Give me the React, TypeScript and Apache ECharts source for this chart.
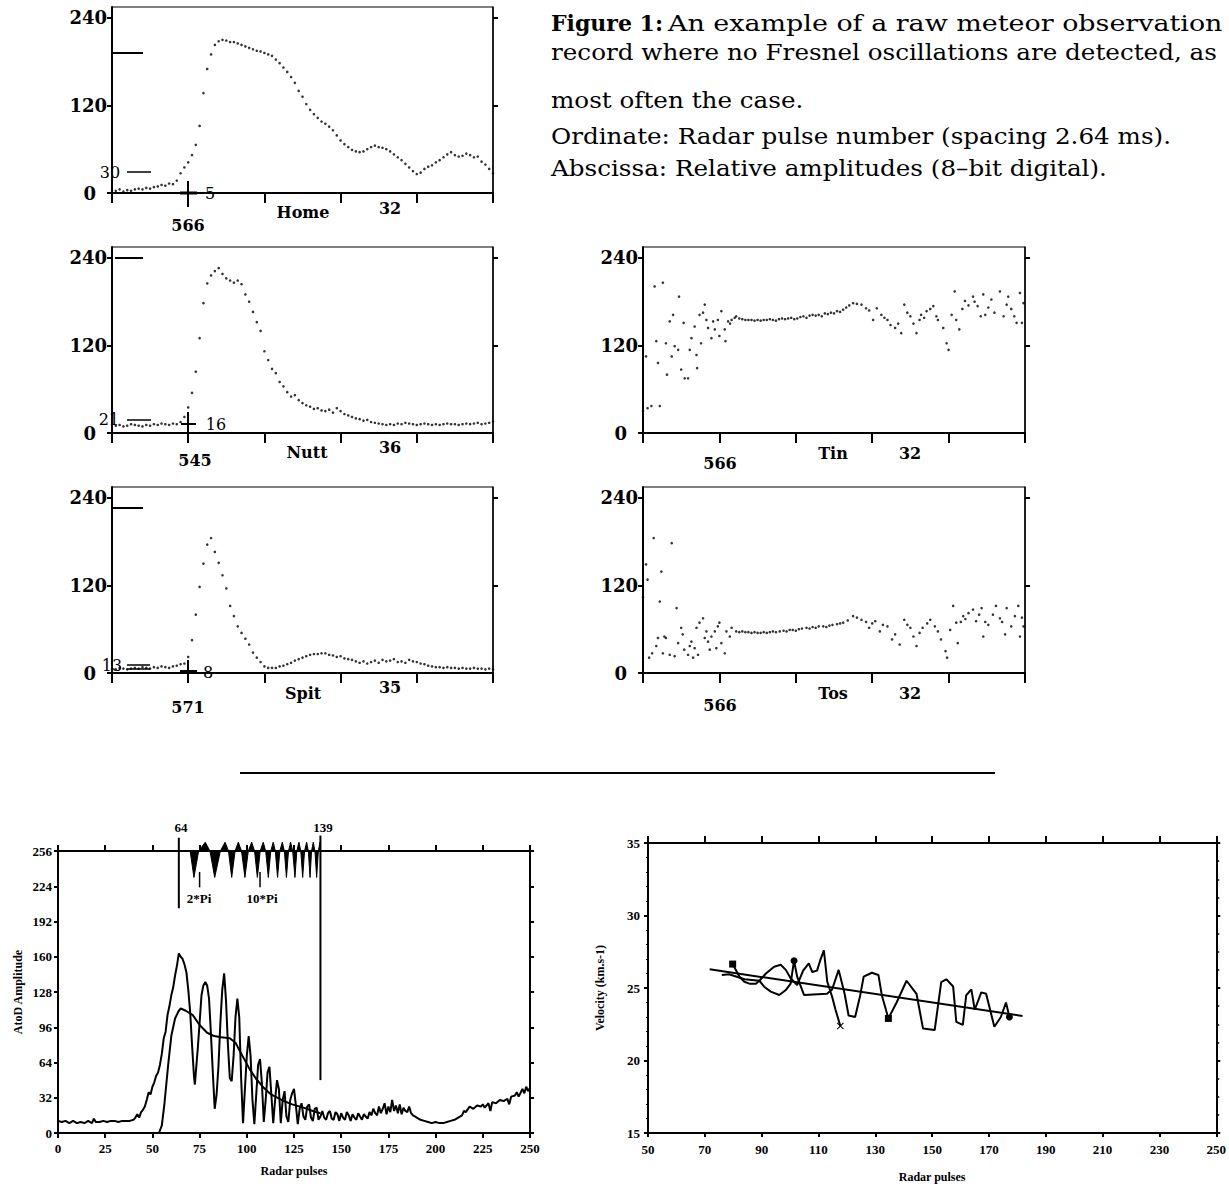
import React, { useEffect, useRef } from "react";
import * as echarts from "echarts";

// ---------- DATA ----------
// Top panels: relative amplitude (0-255) against pulse offset, one reading every 2.5 pulses
const STEP = 2.5;
const homeAmp = [
  4, 3, 5, 2, 4, 3, 5, 6, 5, 7, 6, 8, 9, 11, 10, 13, 12, 17, 27, 35,
  42, 52, 66, 92, 137, 170, 190, 203, 208, 210, 209, 207, 207, 205, 203, 201, 199, 197, 195, 194,
  192, 190, 188, 183, 178, 172, 166, 159, 151, 140, 132, 122, 114, 108, 103, 98, 95, 91, 86, 79,
  72, 67, 63, 59, 57, 56, 57, 60, 63, 65, 63, 62, 60, 57, 53, 49, 45, 40, 35, 30,
  26, 28, 33, 36, 38, 42, 45, 49, 53, 56, 52, 50, 51, 54, 52, 49, 50, 43, 39, 33, 27,
];
const nuttAmp = [
  12, 10, 11, 9, 10, 12, 11, 10, 9, 11, 10, 12, 11, 13, 12, 11, 13, 12, 15,
  22, 35, 55, 84, 130, 178, 205, 216, 222, 226, 218, 212, 209, 206, 209, 204, 190, 180, 166, 152,
  140, 112, 100, 88, 82, 70, 64, 56, 50, 52, 45, 41, 38, 36, 33, 34, 31, 30, 32, 28,
  34, 30, 26, 24, 22, 20, 19, 17, 18, 15, 14, 13, 12,
  11, 12, 11, 13, 12, 14, 13, 12, 11, 12, 13, 12, 11, 12, 11, 12, 13, 12, 12, 11,
  12, 13, 12, 13, 14, 12, 13, 14, 16,
];
const spitAmp = [
  6, 5, 7, 6, 5, 6, 7, 6, 8, 7, 6, 8, 7, 9, 8, 7, 9, 10, 12,
  13, 22, 45, 80, 118, 150, 176, 185, 166, 151, 134, 116, 92, 78, 64, 55, 47, 39, 28, 21, 15, 9,
  7, 7, 7, 9, 10, 12, 14, 17, 19, 21, 23, 25, 26, 26, 27, 27, 25, 24, 22, 23,
  20, 19, 18, 16, 14, 16, 13, 15, 17, 14, 18, 16, 17, 19, 15, 16, 14, 18, 16, 15,
  13, 12, 10, 9, 8, 8, 7, 8, 7, 7, 6, 7, 6, 6, 7, 6, 6, 5, 6, 5,
];
const tinPts = [
  [0, 30], [2, 105], [3, 34], [5.5, 37], [7.6, 201], [8.7, 126], [9.8, 96], [11, 37], [13, 206], [15, 123],
  [15.7, 80], [17.5, 153], [18.8, 105], [19.7, 162], [20.7, 119], [23, 114], [23.6, 187], [25, 87], [26.6, 151], [27.3, 75],
  [29.5, 75], [30.6, 114], [31.7, 130], [33.8, 146], [35, 107], [35.4, 89], [37, 162], [38, 123], [39.3, 165], [40.4, 176],
  [41.5, 155], [42.6, 144], [44.8, 130], [45.9, 153], [47, 142], [49, 155], [50, 133], [51.3, 167], [53.5, 142], [54, 126],
  [55.7, 153], [57, 150], [58, 155], [60, 158], [61, 160], [63, 157], [65, 156], [67, 155], [69, 155], [71, 155],
  [73, 154], [75, 155], [77, 154], [79, 155], [81, 155], [83, 156], [85, 155], [87, 154], [89, 156], [91, 157],
  [93, 156], [95, 157], [97, 158], [99, 156], [101, 157], [103, 159], [105, 160], [107, 158], [109, 161], [111, 162],
  [113, 161], [115, 162], [117, 160], [119, 164], [121, 163], [123, 165], [125, 164], [127, 167], [129, 166], [131, 169],
  [133, 172], [135, 175], [137.5, 178], [140, 177], [143, 176], [146, 171], [148, 168], [150.6, 155], [153, 171], [156, 162],
  [158, 158], [160, 155], [162, 148], [165, 144], [167, 150], [169, 137], [171, 176], [173, 165], [175, 160], [177, 150],
  [179, 137], [181, 155], [182, 162], [184, 158], [185.6, 167], [188, 170], [190, 174], [192, 160], [193, 155], [196.5, 144],
  [198.7, 123], [200, 114], [202, 162], [204, 194], [205, 155], [207, 142], [209, 170], [210.7, 181], [213, 175], [216, 187],
  [217, 180], [219, 174], [221, 160], [222.7, 190], [224, 162], [226, 172], [228, 183], [230, 165], [233.6, 194], [236, 160],
  [238, 176], [239, 187], [241, 170], [243, 160], [244.5, 151], [246.7, 192], [248, 151], [249, 178],
];
const tosPts = [
  [0, 104], [2, 149], [3, 128], [4, 21], [6, 27], [7, 185], [8.7, 37], [9.8, 48], [11, 98], [12, 139],
  [13, 27], [14, 50], [15, 48], [17.5, 25], [18.8, 178], [20.7, 23], [22, 89], [23, 41], [25, 62], [26, 53],
  [27, 32], [29.5, 25], [30.6, 37], [31.7, 43], [32.8, 21], [33.8, 34], [35, 62], [36, 25], [37, 69], [39.3, 75],
  [40.4, 48], [41.5, 57], [42.6, 43], [43.7, 32], [44.8, 50], [47, 57], [48, 34], [49, 64], [50, 69], [51.3, 41],
  [53.5, 27], [54.6, 57], [56.8, 50], [58, 62], [61, 57], [63, 56], [65, 57], [67, 56], [69, 56], [71, 55],
  [73, 56], [75, 55], [77, 55], [79, 56], [81, 55], [83, 56], [85, 57], [87, 56], [89.5, 57], [92, 58],
  [94, 57], [96, 59], [98, 59], [100, 58], [102, 60], [104, 61], [107, 62], [109, 61], [111, 63], [113, 62],
  [115, 64], [118, 64], [120, 63], [122, 65], [124, 66], [127, 67], [129, 68], [131, 69], [134, 72], [137.5, 78],
  [140, 76], [143, 73], [146, 70], [148, 62], [150, 68], [152, 71], [155, 57], [157, 66], [160, 64], [163, 46],
  [165, 53], [168, 39], [171, 73], [173, 66], [175, 62], [177, 50], [179, 37], [181, 55], [183, 62], [186, 68],
  [188, 73], [191, 64], [193, 57], [195, 46], [198, 30], [199, 21], [201, 59], [203, 92], [205, 69], [206, 41],
  [208, 70], [209.6, 78], [211, 74], [213, 82], [216, 87], [218, 71], [220, 80], [221.6, 89], [222.7, 50], [224, 70],
  [226, 66], [229, 80], [231, 92], [233.6, 75], [235, 70], [237, 53], [238, 89], [241, 64], [243.4, 78], [245.6, 92],
  [246.7, 50], [248, 76], [249, 64],
];
const smallYTicks = [0, 120, 240];
const smallRightTicks = [120, 240];

// Bottom-left: AtoD amplitude against radar pulse
const rawAmp = [
  [0, 11], [2, 10], [4, 11], [6, 9], [8, 11], [10, 9], [12, 10], [14, 9], [16, 11], [18, 9], [19, 13], [20, 10],
  [22, 10], [24, 11], [26, 10], [28, 11], [30, 11], [32, 10], [34, 11], [36, 11], [38, 11], [40, 12], [41, 14],
  [42, 17], [43, 14], [44, 19], [45, 21], [46, 24], [47, 30], [48, 37], [49, 35], [50, 42], [51, 46], [52, 52],
  [53, 55], [54, 62], [55, 72], [56, 86], [57, 92], [58, 107], [59, 115], [60, 125], [61, 132], [62, 143],
  [63, 152], [64, 163], [65, 160], [66, 158], [67, 153], [68, 146], [69, 130], [70, 110], [71, 80], [72, 52],
  [72.5, 44], [73, 55], [74, 76], [75, 100], [76, 125], [77, 134], [78, 137], [79, 134], [80, 122], [81, 90],
  [82, 55], [83, 22], [84, 35], [85, 61], [86, 100], [87, 130], [88, 145], [89, 120], [90, 80], [91, 50],
  [92, 47], [93, 70], [94, 105], [95, 122], [96, 105], [97, 50], [98, 9], [99, 40], [100, 70], [101, 88],
  [102, 70], [103, 30], [104, 8], [105, 35], [106, 62], [107, 67], [108, 45], [109, 10], [110, 30], [111, 55],
  [112, 60], [113, 35], [114, 9], [115, 30], [116, 48], [117, 40], [118, 9], [119, 30], [120, 38], [121, 15],
  [122, 10], [123, 30], [124, 36], [125, 40], [126, 25], [127, 8], [128, 22], [129, 27], [130, 15], [131, 12],
  [132, 24], [133, 26], [134, 14], [135, 11], [136, 22], [137, 23], [138, 12], [139, 15], [140, 20], [141, 14],
  [142, 12], [143, 18], [144, 20], [145, 13], [146, 12], [147, 19], [148, 17], [149, 11], [150, 18], [151, 14],
  [152, 12], [153, 19], [154, 16], [155, 11], [156, 17], [157, 14], [158, 12], [159, 18], [160, 15], [161, 12],
  [162, 17], [163, 15], [164, 13], [165, 19], [166, 16], [167, 22], [168, 18], [169, 16], [170, 24], [171, 18],
  [172, 22], [173, 27], [174, 17], [175, 24], [176, 19], [177, 30], [178, 20], [179, 25], [180, 18], [181, 26],
  [182, 17], [183, 23], [184, 20], [185, 19], [186, 24], [187, 18], [188, 16], [189, 15], [190, 14], [192, 12],
  [194, 11], [196, 10], [198, 9], [200, 10], [202, 9], [204, 9], [206, 10], [208, 11], [210, 12], [212, 14],
  [214, 16], [215, 20], [216, 19], [218, 24], [220, 22], [222, 25], [224, 24], [225, 26], [226, 23], [228, 27],
  [229, 20], [230, 28], [232, 27], [234, 30], [236, 29], [238, 31], [239, 26], [240, 33], [242, 34], [243, 37],
  [244, 33], [246, 40], [247, 36], [248, 42], [249, 38], [250, 41],
];
const meanAmp = [
  [0, 0], [53.5, 0], [55, 7], [56.4, 27], [58.3, 61], [60, 88], [62, 104], [64, 111], [65, 113], [67.7, 111],
  [71.4, 107], [75, 98], [79, 91], [82.7, 88], [86.5, 87], [91, 86], [94, 82], [97.7, 70], [101.5, 58],
  [105, 49], [109, 41], [112.8, 35], [118.4, 30], [124, 26], [130, 23], [135, 20], [139, 18],
];
const fresnelWave = [
  [70, 256], [72, 232], [74.5, 256], [78, 264], [80.5, 256], [83, 232], [86, 256], [88.5, 264], [90.3, 256],
  [92, 232], [93.8, 256], [95.5, 264], [97.2, 256], [99, 232], [100.8, 256], [102.6, 264], [104.1, 256],
  [105.6, 232], [107.1, 256], [108.7, 264], [110, 256], [111.4, 232], [112.7, 256], [114, 264], [115.1, 256],
  [116.3, 232], [117.5, 256], [118.8, 264], [119.9, 256], [121, 232], [122.1, 256], [123.2, 264], [124.3, 256],
  [125.5, 232], [126.5, 256], [127.6, 264], [128.6, 256], [129.6, 232], [130.6, 256], [131.7, 264], [132.6, 256],
  [133.5, 232], [134.3, 256], [135.2, 264], [136.1, 256], [137, 232], [137.9, 256], [138.8, 264], [139, 256],
];
const marker64 = [[64, 268], [64, 204]];
const marker139 = [[139, 270], [139, 48]];
const tick2Pi = [[75, 237], [75, 223]];
const tick10Pi = [[107, 237], [107, 223]];

// Bottom-right: velocity (km/s) against radar pulse
const velFit = [[71.7, 26.29], [181.8, 23.07]];
const velA = [
  [79.8, 26.65], [82.2, 25.78], [83.9, 25.43], [85.7, 25.3], [88, 25.3], [89.2, 25.5], [91.5, 26.0], [94.4, 26.47],
  [96.7, 26.6], [98.5, 26.25], [100.2, 25.67], [102.5, 25.2], [104.6, 26.2], [106.6, 26.7], [107.8, 26.1],
  [109.5, 26.2], [110.6, 26.9], [111.9, 27.6], [113.1, 25.43], [114.8, 24.4], [116, 23.5], [117.7, 22.38],
];
const velB = [
  [76, 25.9], [78.5, 25.95], [84, 25.6], [89.2, 25.5], [90.9, 25.09], [93.2, 24.75], [96.2, 24.52], [98.5, 24.86],
  [100.2, 25.3], [101.4, 26.88], [102.5, 25.78], [104.9, 24.52], [113, 24.6], [114.8, 24.9], [117.1, 26.25],
  [119.2, 24.6], [120.6, 23.1], [122.9, 23.0], [124.7, 24.5], [125.9, 25.78], [128.8, 26.05], [131.1, 25.9],
  [132.3, 24.5], [134.6, 22.9], [137.5, 24.0], [141, 25.5], [144.5, 24.6], [146.8, 22.2], [150.9, 22.1],
  [153.2, 25.4], [155, 25.6], [157.4, 25.1], [158.5, 22.67], [160.8, 22.45], [162, 24.5], [163.8, 24.9],
  [165, 23.5], [167.3, 24.7], [169, 24.6], [171.9, 22.33], [174.2, 23.0], [176, 24.0], [177.2, 23.0],
];
const velAMarks = { 0: "rect", 21: "cross" } as Record<number, string>;
const velBMarks = { 9: "circle", 23: "rect", 42: "circle" } as Record<number, string>;

// ---------- LAYOUT / STYLE ----------
const SERIF = "DejaVu Serif";
const TIMES = "Liberation Serif";
const CROSS =
  "path://M0,1L1,0L5,4L9,0L10,1L6,5L10,9L9,10L5,6L1,10L0,9L4,5Z";

const smallGrids = [
  { left: 112, top: 7, width: 381, height: 186 },
  { left: 112, top: 247, width: 381, height: 186 },
  { left: 112, top: 487, width: 381, height: 186 },
  { left: 643, top: 247, width: 382, height: 186 },
  { left: 643, top: 487, width: 382, height: 186 },
];

function txt(x: number, y: number, text: string, font: string, align = "center", extra: any = {}) {
  return {
    type: "text",
    x,
    y,
    silent: true,
    ...extra,
    style: { text, font, fill: "#000", textAlign: align, textVerticalAlign: "middle" },
  };
}
function seg(x1: number, y1: number, x2: number, y2: number, w = 2) {
  return { type: "line", silent: true, shape: { x1, y1, x2, y2 }, style: { stroke: "#000", lineWidth: w } };
}

function buildOption() {
  const grids: any[] = [];
  const xAxes: any[] = [];
  const yAxes: any[] = [];
  const series: any[] = [];

  const smallData = [
    homeAmp.map((v, i) => [i * STEP, v]),
    nuttAmp.map((v, i) => [i * STEP, v]),
    spitAmp.map((v, i) => [i * STEP, v]),
    tinPts,
    tosPts,
  ];

  smallGrids.forEach((g, i) => {
    grids.push({ ...g, show: true, borderColor: "#000", borderWidth: 1, backgroundColor: "transparent" });
    xAxes.push({
      gridIndex: i,
      type: "value",
      min: 0,
      max: 250,
      interval: 50,
      position: "bottom",
      axisLine: { show: true, onZero: false, lineStyle: { color: "#000", width: 2 } },
      axisTick: { show: true, length: 10, lineStyle: { color: "#000", width: 2 } },
      axisLabel: { show: false },
      splitLine: { show: false },
    });
    yAxes.push({
      gridIndex: i,
      type: "value",
      min: 0,
      max: 255,
      position: "left",
      axisLine: { show: true, lineStyle: { color: "#000", width: 2 } },
      axisTick: { show: true, length: 5, customValues: smallYTicks, lineStyle: { color: "#000", width: 2 } },
      axisLabel: {
        customValues: smallYTicks,
        color: "#000",
        fontFamily: SERIF,
        fontWeight: "bold",
        fontSize: 18,
        margin: 5,
        formatter: (v: number) => (v === 0 ? "{z|0}" : String(v)),
        rich: {
          z: { fontFamily: SERIF, fontWeight: "bold", fontSize: 18, color: "#000", padding: [0, 11, 0, 0] },
        },
      },
      splitLine: { show: false },
    });
    yAxes.push({
      gridIndex: i,
      type: "value",
      min: 0,
      max: 255,
      position: "right",
      axisLine: { show: true, lineStyle: { color: "#000", width: 1.5 } },
      axisTick: { show: true, length: 5, customValues: smallRightTicks, lineStyle: { color: "#000", width: 2 } },
      axisLabel: { show: false },
      splitLine: { show: false },
    });
    series.push({
      type: "scatter",
      xAxisIndex: i,
      yAxisIndex: 2 * i,
      data: smallData[i],
      symbol: "circle",
      symbolSize: 2.6,
      itemStyle: { color: "#000" },
      silent: true,
    });
  });

  // bottom-left
  const bl = grids.length;
  grids.push({ left: 58, top: 851, width: 472, height: 282, show: false });
  const labelStyle = { color: "#000", fontFamily: TIMES, fontWeight: "bold", fontSize: 13 };
  const nameStyle = { color: "#000", fontFamily: TIMES, fontWeight: "bold", fontSize: 12 };
  xAxes.push({
    gridIndex: bl,
    type: "value",
    min: 0,
    max: 250,
    interval: 25,
    position: "bottom",
    name: "Radar pulses",
    nameLocation: "middle",
    nameGap: 32,
    nameTextStyle: nameStyle,
    axisLine: { show: true, onZero: false, lineStyle: { color: "#000", width: 2 } },
    axisTick: { show: true, length: 5, lineStyle: { color: "#000", width: 2 } },
    axisLabel: { ...labelStyle, margin: 9 },
    splitLine: { show: false },
  });
  xAxes.push({
    gridIndex: bl,
    type: "value",
    min: 0,
    max: 250,
    interval: 25,
    position: "top",
    axisLine: { show: true, onZero: false, lineStyle: { color: "#000", width: 2 } },
    axisTick: { show: true, length: 6, lineStyle: { color: "#000", width: 2 } },
    axisLabel: { show: false },
    splitLine: { show: false },
  });
  const blX = xAxes.length - 2;
  yAxes.push({
    gridIndex: bl,
    type: "value",
    min: 0,
    max: 256,
    interval: 32,
    position: "left",
    name: "AtoD Amplitude",
    nameLocation: "middle",
    nameGap: 34,
    nameTextStyle: nameStyle,
    axisLine: { show: true, onZero: false, lineStyle: { color: "#000", width: 2 } },
    axisTick: { show: true, length: 4, lineStyle: { color: "#000", width: 2 } },
    axisLabel: { ...labelStyle, margin: 6 },
    splitLine: { show: false },
  });
  yAxes.push({
    gridIndex: bl,
    type: "value",
    min: 0,
    max: 256,
    interval: 32,
    position: "right",
    axisLine: { show: true, onZero: false, lineStyle: { color: "#000", width: 2 } },
    axisTick: { show: true, length: 4, lineStyle: { color: "#000", width: 2 } },
    axisLabel: { show: false },
    splitLine: { show: false },
  });
  const blY = yAxes.length - 2;
  const lineBase = (data: any[], w = 2) => ({
    type: "line",
    xAxisIndex: blX,
    yAxisIndex: blY,
    data,
    symbol: "none",
    clip: false,
    silent: true,
    lineStyle: { color: "#000", width: w },
  });
  series.push(lineBase(rawAmp, 2));
  series.push(lineBase(meanAmp, 2));
  series.push({
    ...lineBase(fresnelWave, 1),
    areaStyle: { color: "#000", opacity: 1, origin: 256 },
  });
  series.push(lineBase(marker64, 2));
  series.push(lineBase(marker139, 2));
  series.push(lineBase(tick2Pi, 1.5));
  series.push(lineBase(tick10Pi, 1.5));

  // bottom-right
  const br = grids.length;
  grids.push({ left: 648, top: 843, width: 572, height: 290, show: false });
  xAxes.push({
    gridIndex: br,
    type: "value",
    min: 50,
    max: 250,
    interval: 20,
    position: "bottom",
    name: "Radar pulses",
    nameLocation: "middle",
    nameGap: 38,
    nameTextStyle: nameStyle,
    axisLine: { show: true, onZero: false, lineStyle: { color: "#000", width: 2 } },
    axisTick: { show: true, length: 4, lineStyle: { color: "#000", width: 2 } },
    axisLabel: { ...labelStyle, margin: 10 },
    splitLine: { show: false },
  });
  xAxes.push({
    gridIndex: br,
    type: "value",
    min: 50,
    max: 250,
    interval: 20,
    position: "top",
    axisLine: { show: true, onZero: false, lineStyle: { color: "#000", width: 2 } },
    axisTick: { show: true, length: 7, lineStyle: { color: "#000", width: 2 } },
    axisLabel: { show: false },
    splitLine: { show: false },
  });
  const brX = xAxes.length - 2;
  yAxes.push({
    gridIndex: br,
    type: "value",
    min: 15,
    max: 35,
    interval: 5,
    position: "left",
    name: "Velocity (km.s-1)",
    nameLocation: "middle",
    nameGap: 42,
    nameTextStyle: { ...nameStyle, fontSize: 12 },
    axisLine: { show: true, onZero: false, lineStyle: { color: "#000", width: 2 } },
    axisTick: { show: true, length: 4, lineStyle: { color: "#000", width: 2 } },
    minorTick: { show: true, splitNumber: 5, length: 2, lineStyle: { color: "#000", width: 1 } },
    axisLabel: { ...labelStyle, margin: 8 },
    splitLine: { show: false },
  });
  yAxes.push({
    gridIndex: br,
    type: "value",
    min: 15,
    max: 35,
    interval: 5,
    position: "right",
    axisLine: { show: true, onZero: false, lineStyle: { color: "#000", width: 2 } },
    axisTick: { show: true, length: 4, lineStyle: { color: "#000", width: 2 } },
    minorTick: { show: true, splitNumber: 4, length: 3, lineStyle: { color: "#000", width: 1.5 } },
    axisLabel: { show: false },
    splitLine: { show: false },
  });
  const brY = yAxes.length - 2;
  const velSeries = (data: number[][], marks: Record<number, string>) => ({
    type: "line",
    xAxisIndex: brX,
    yAxisIndex: brY,
    silent: true,
    symbol: "none",
    lineStyle: { color: "#000", width: 2 },
    itemStyle: { color: "#000" },
    data: data.map((p, i) =>
      marks[i]
        ? { value: p, symbol: marks[i] === "cross" ? CROSS : marks[i], symbolSize: 7 }
        : { value: p }
    ),
  });
  series.push({
    type: "line",
    xAxisIndex: brX,
    yAxisIndex: brY,
    silent: true,
    symbol: "none",
    lineStyle: { color: "#000", width: 2 },
    data: velFit,
  });
  series.push(velSeries(velA, velAMarks));
  series.push(velSeries(velB, velBMarks));

  // ---------- graphic annotations ----------
  const B16 = `bold 16px "${SERIF}"`;
  const R16 = `16px "${SERIF}"`;
  const capFont = `22px "${SERIF}"`;
  const capBold = `bold 22px "${SERIF}"`;
  const small = `bold 13px "${TIMES}"`;
  const capScale = { scaleX: 1.12, originX: 0 };
  const graphic: any[] = [
    // caption
    txt(551, 23, "Figure 1:", capBold, "left"),
    txt(668, 23, "An example of a raw meteor observation", capFont, "left", { scaleX: 1.225, originX: 0 }),
    txt(551, 52, "record where no Fresnel oscillations are detected, as", capFont, "left", capScale),
    txt(551, 100, "most often the case.", capFont, "left", capScale),
    txt(551, 136, "Ordinate: Radar pulse number (spacing 2.64 ms).", capFont, "left", capScale),
    txt(551, 168, "Abscissa: Relative amplitudes (8\u2013bit digital).", capFont, "left", capScale),
    // separator
    seg(240, 773, 995, 773, 2),
    // Home
    seg(113, 53, 143, 53, 2),
    txt(110, 172, "30", R16),
    seg(127, 172, 151, 172, 1.5),
    seg(180, 193, 197, 193, 3),
    seg(188, 181, 188, 207, 2),
    txt(210, 193, "5", R16),
    txt(188, 225, "566", B16),
    txt(303, 212, "Home", B16),
    txt(390, 208, "32", B16),
    // Nutt
    seg(115, 258, 143, 258, 2),
    txt(109, 419, "21", R16),
    seg(127, 420, 151, 420, 1.5),
    seg(181, 424, 196, 424, 2),
    seg(188, 412, 188, 434, 2),
    txt(216, 424, "16", R16),
    txt(195, 460, "545", B16),
    txt(307, 452, "Nutt", B16),
    txt(390, 447, "36", B16),
    // Spit
    seg(113, 508, 143, 508, 2),
    txt(112, 665, "13", R16),
    seg(127, 665, 150, 665, 1.5),
    seg(127, 669, 150, 669, 1.5),
    seg(180, 671, 197, 671, 2),
    seg(188, 660, 188, 675, 2),
    txt(208, 672, "8", R16),
    txt(188, 707, "571", B16),
    txt(303, 693, "Spit", B16),
    txt(390, 687, "35", B16),
    // Tin
    txt(720, 463, "566", B16),
    txt(833, 453, "Tin", B16),
    txt(910, 453, "32", B16),
    // Tos
    txt(720, 705, "566", B16),
    txt(833, 693, "Tos", B16),
    txt(910, 693, "32", B16),
    // bottom-left annotations
    txt(181, 827, "64", small),
    txt(323, 827, "139", small),
    txt(199, 898, "2*Pi", small),
    txt(262, 898, "10*Pi", small),
  ];

  return {
    animation: false,
    backgroundColor: "#fff",
    grid: grids,
    xAxis: xAxes,
    yAxis: yAxes,
    series,
    graphic,
  };
}

export default function App() {
  const ref = useRef<HTMLDivElement>(null);
  useEffect(() => {
    if (!ref.current) return;
    const chart = echarts.init(ref.current, undefined, { renderer: "svg" });
    chart.setOption(buildOption() as any);
    return () => chart.dispose();
  }, []);
  return (
    <div
      ref={ref}
      style={{ position: "absolute", left: 0, top: 0, width: 1229, height: 1194, background: "#fff" }}
    />
  );
}
